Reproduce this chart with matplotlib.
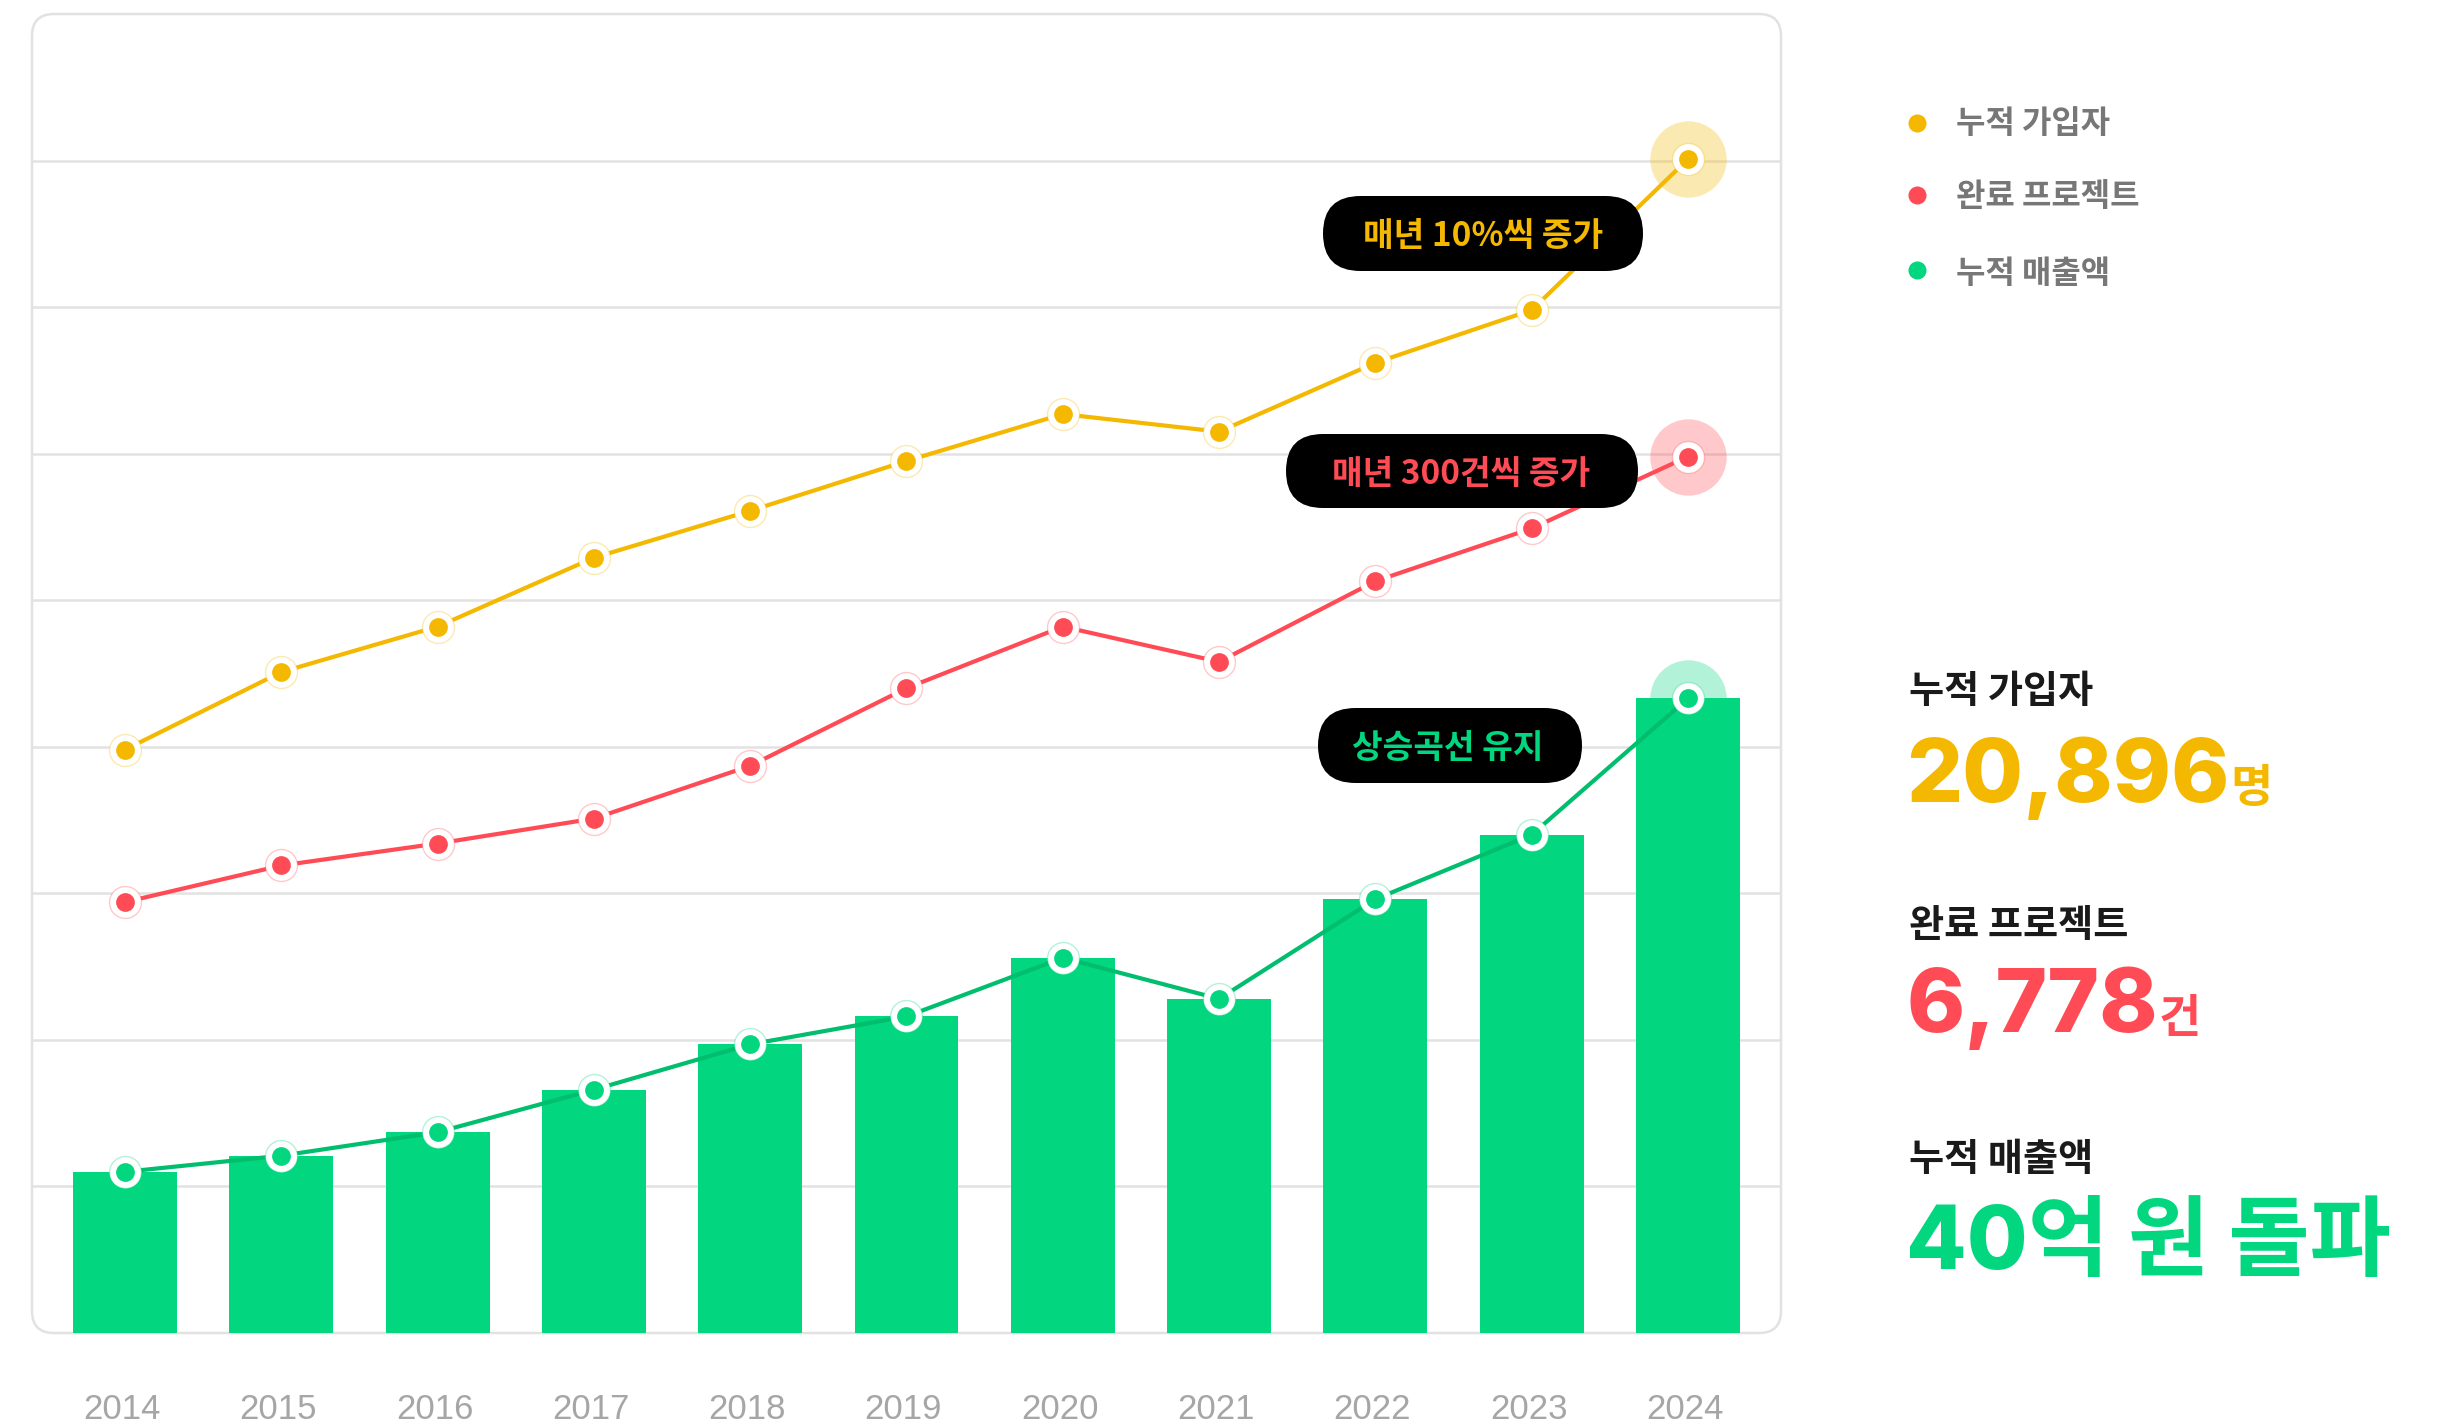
import numpy as np
import matplotlib
matplotlib.use("Agg")
import matplotlib.pyplot as plt
from matplotlib.patches import FancyBboxPatch
from matplotlib.lines import Line2D
from matplotlib.colors import to_rgba

# data (in grid units)
years = ["2014", "2015", "2016", "2017", "2018", "2019", "2020", "2021", "2022", "2023", "2024"]
members = [3.98, 4.51, 4.82, 5.29, 5.61, 5.95, 6.27, 6.15, 6.62, 6.98, 8.01]
projects = [2.94, 3.19, 3.34, 3.51, 3.87, 4.40, 4.82, 4.58, 5.13, 5.49, 5.98]
sales = [1.10, 1.21, 1.37, 1.66, 1.97, 2.16, 2.56, 2.28, 2.96, 3.40, 4.33]

series_names = ["누적 가입자", "완료 프로젝트", "누적 매출액"]
notes = ["매년 10%씩 증가", "매년 300건씩 증가", "상승곡선 유지"]
kpi_values = ["20,896", "6,778", "40억 원 돌파"]
kpi_units = ["명", "건", ""]

YEL = "#F5B800"
RED = "#FF4B55"
GRN = "#02D67F"
GRN_LINE = "#00BE6E"
GRID = "#E2E2E2"

KR = ["Noto Sans CJK KR", "DejaVu Sans"]
NUM = ["Inter", "Noto Sans CJK KR", "DejaVu Sans"]

W, H = 2449, 1424
fig = plt.figure(figsize=(W / 100, H / 100), dpi=100)
fig.patch.set_facecolor("white")


def fx(x):
    return x / W


def fy(y):
    return 1 - y / H


# rounded chart frame
frame = FancyBboxPatch((0.32, 0.91), 17.49, 13.19,
                       boxstyle="round,pad=0,rounding_size=0.22",
                       fc="none", ec=GRID, lw=1.8,
                       transform=fig.dpi_scale_trans, zorder=-1)
fig.add_artist(frame)

ax = fig.add_axes([fx(32), 91 / H, 1749 / W, 1319 / H])
ax.patch.set_visible(False)
for s in ax.spines.values():
    s.set_visible(False)
x = np.arange(len(years))
ax.set_xlim(-0.595, 10.595)
ax.set_ylim(0, 9)
ax.set_yticks(range(1, 9))
ax.set_xticks([])
ax.tick_params(axis="y", length=0, labelleft=False)
ax.yaxis.grid(True, color=GRID, lw=1.8)
ax.set_axisbelow(True)

ax.bar(x, sales, width=0.665, color=GRN, zorder=2)

for vals, col, dot in [(members, YEL, YEL), (projects, RED, RED), (sales, GRN_LINE, GRN)]:
    ax.plot(x[-1], vals[-1], "o", ms=55, color=to_rgba(dot, 0.3), mec="none", zorder=1.5)
    ax.plot(x, vals, color=col, lw=3.0, zorder=3, solid_capstyle="round")
    ax.plot(x, vals, "o", ms=23, mfc="white", mec=to_rgba(dot, 0.3), mew=1, zorder=4)
    ax.plot(x, vals, "o", ms=13.5, color=dot, mec="none", zorder=5)

tr = ax.get_xaxis_transform()
for xi, yr in zip(x, years):
    ax.text(xi - 0.02, (1333 - 1419) / 1319, yr, transform=tr, ha="center", va="baseline",
            fontsize=25, color="#A6A6A6", family=["Liberation Sans", "DejaVu Sans"])

# annotation pills
pills = [(1323, 196, 320, 75, 1483, 246, YEL),
         (1286, 434, 352, 74, 1461, 484, RED),
         (1318, 708, 264, 75, 1448, 758, GRN)]
for (bx, by, bw, bh, tx, ty, col), note in zip(pills, notes):
    p = FancyBboxPatch((bx / 100, (H - by - bh) / 100), bw / 100, bh / 100,
                       boxstyle="round,pad=0,rounding_size=%f" % (bh / 200),
                       fc="black", ec="none", transform=fig.dpi_scale_trans, zorder=2)
    fig.add_artist(p)
    fig.text(fx(tx), fy(ty), note, ha="center", va="baseline", fontsize=24,
             fontweight="bold", color=col, family=KR, zorder=3)

# legend
for name, col, ly, ty in zip(series_names, [YEL, RED, GRN], [123, 195, 270], [133, 206, 283]):
    fig.add_artist(Line2D([fx(1917)], [fy(ly)], marker="o", ms=13, color=col, mec="none",
                          transform=fig.transFigure))
    fig.text(fx(1956), fy(ty), name, ha="left", va="baseline", fontsize=23,
             fontweight="bold", color="#777777", family=KR)

# KPI block
title_y = [703, 937, 1171]
value_y = [802, 1032, 1269]
cols = [YEL, RED, GRN]
fig.canvas.draw()
rend = fig.canvas.get_renderer()
for name, ty, val, unit, vy, col in zip(series_names, title_y, kpi_values, kpi_units, value_y, cols):
    fig.text(fx(1909), fy(ty), name, ha="left", va="baseline", fontsize=27.5,
             fontweight="bold", color="#1A1A1A", family=KR)
    t = fig.text(fx(1906), fy(vy), val, ha="left", va="baseline", fontsize=63.5,
                 fontweight="heavy", color=col, family=NUM)
    if unit:
        bb = t.get_window_extent(rend)
        fig.text((bb.x1 + 1) / W, fy(vy), unit, ha="left", va="baseline", fontsize=33,
                 fontweight="bold", color=col, family=KR)

fig.savefig("out.png", dpi=100, facecolor="white")
